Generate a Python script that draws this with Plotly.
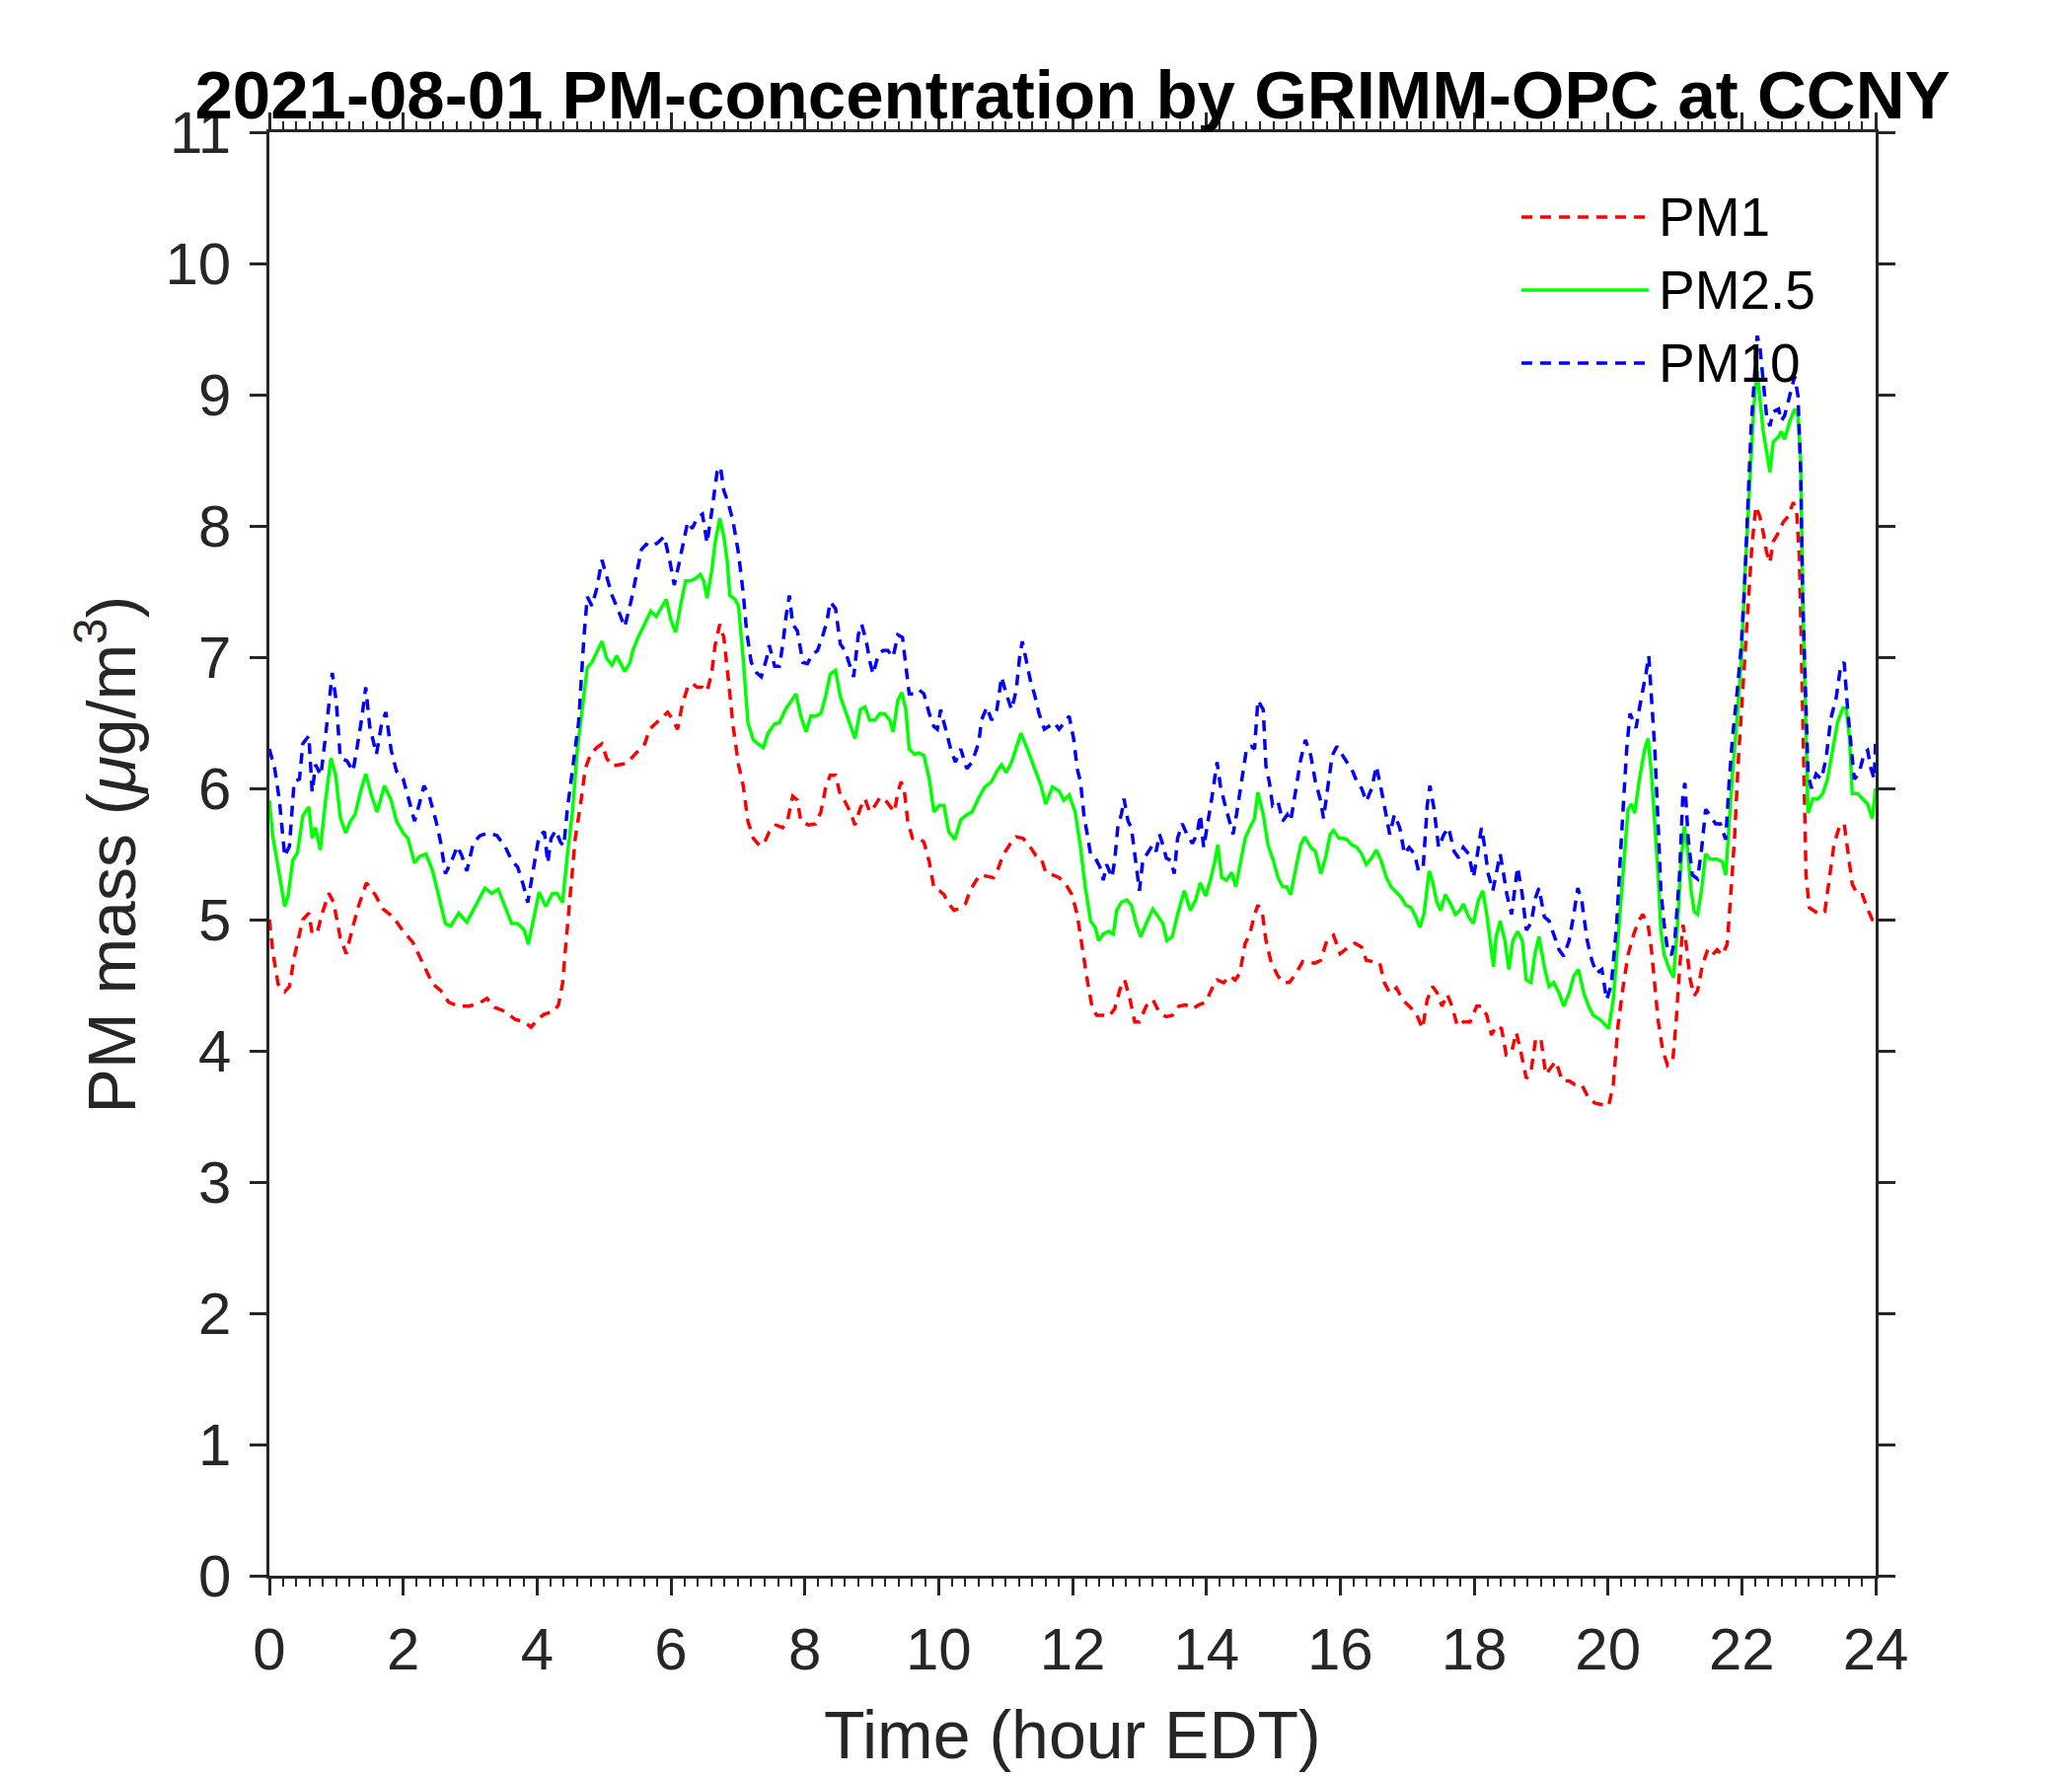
import plotly.graph_objects as go

# GRIMM-OPC readings, 2021-08-01 at CCNY
# time in hours EDT, PM mass in ug/m3

t_pm1 = [
    0.00, 0.05, 0.13, 0.23, 0.30, 0.37, 0.45, 0.50, 0.59, 0.64,
    0.72, 0.79, 0.89, 0.96, 1.06, 1.15, 1.23, 1.33, 1.45, 1.58,
    1.70, 1.85, 2.00, 2.14, 2.29, 2.44, 2.56, 2.68, 2.83, 2.98,
    3.13, 3.25, 3.37, 3.52, 3.67, 3.81, 3.91, 4.01, 4.11, 4.25,
    4.32,
    4.38, 4.43, 4.50, 4.57, 4.65, 4.72, 4.80, 4.89, 4.97, 5.04,
    5.12, 5.21, 5.34, 5.41, 5.51, 5.61, 5.68, 5.78, 5.88, 5.95,
    6.02, 6.10, 6.17, 6.25, 6.32, 6.39, 6.47, 6.54, 6.61, 6.66,
    6.73, 6.79, 6.86, 6.93, 7.01, 7.08, 7.15, 7.23, 7.33, 7.40,
    7.47, 7.57, 7.67, 7.74, 7.82, 7.89, 7.94,
    8.06, 8.16, 8.24, 8.31, 8.38, 8.46, 8.53, 8.60, 8.68, 8.75,
    8.83, 8.90, 8.97, 9.05, 9.12, 9.19, 9.27, 9.34, 9.39, 9.44,
    9.49, 9.54, 9.61, 9.71, 9.78, 9.86, 9.93, 10.01, 10.08, 10.15,
    10.23, 10.33, 10.40, 10.47, 10.55, 10.62, 10.72, 10.82, 10.89, 10.96,
    11.06, 11.16, 11.26, 11.36, 11.45, 11.53, 11.60, 11.70, 11.80, 11.90,
    11.99, 12.07, 12.14, 12.22, 12.29, 12.36, 12.46, 12.54, 12.63, 12.71,
    12.78, 12.86, 12.93, 13.00, 13.10, 13.20, 13.30, 13.40, 13.49, 13.59,
    13.69, 13.79, 13.89, 13.99, 14.08, 14.16, 14.26, 14.35, 14.43, 14.50,
    14.58, 14.65, 14.71, 14.77, 14.84, 14.89, 14.97, 15.07, 15.14, 15.24,
    15.34, 15.44, 15.53, 15.63, 15.71, 15.80, 15.90, 16.00,
    16.12, 16.22, 16.32, 16.39, 16.49, 16.59, 16.66, 16.74, 16.84, 16.93,
    17.03, 17.13, 17.23, 17.30, 17.38, 17.45, 17.52, 17.60, 17.67, 17.75,
    17.84, 17.94, 18.04, 18.11, 18.19, 18.26, 18.33, 18.41, 18.48, 18.56,
    18.63, 18.70, 18.78, 18.85, 18.92, 19.00, 19.07, 19.15, 19.22, 19.32,
    19.42, 19.51, 19.61, 19.71, 19.81, 19.91, 20.01, 20.08,
    20.15, 20.23, 20.30, 20.38, 20.45, 20.52, 20.60, 20.65, 20.70, 20.75,
    20.82, 20.89, 20.97, 21.02, 21.07, 21.12, 21.16, 21.23, 21.29, 21.34,
    21.41, 21.49, 21.56, 21.63, 21.71, 21.78, 21.83, 21.89, 21.95, 22.03,
    22.10, 22.15, 22.21, 22.27, 22.32, 22.37, 22.42, 22.47, 22.55, 22.62,
    22.69, 22.77, 22.82, 22.86, 22.89, 22.93, 22.96, 23.01, 23.09, 23.16,
    23.24, 23.31, 23.38, 23.46, 23.53, 23.58, 23.65, 23.73, 23.80, 23.88,
    23.95, 24.00,
]
pm1 = [
    5.00, 4.76, 4.51, 4.45, 4.49, 4.71, 4.89, 5.00, 5.05, 4.89,
    4.91, 5.05, 5.20, 5.13, 4.86, 4.74, 4.91, 5.10, 5.28, 5.19,
    5.08, 5.02, 4.91, 4.83, 4.67, 4.51, 4.46, 4.37, 4.34, 4.34,
    4.36, 4.40, 4.33, 4.30, 4.24, 4.22, 4.18, 4.24, 4.28, 4.30,
    4.35,
    4.51, 4.81, 5.21, 5.62, 5.88, 6.15, 6.26, 6.31, 6.34, 6.23,
    6.17, 6.18, 6.19, 6.23, 6.29, 6.34, 6.45, 6.50, 6.55, 6.58,
    6.53, 6.45, 6.64, 6.77, 6.80, 6.77, 6.77, 6.74, 6.88, 7.09,
    7.25, 7.15, 6.82, 6.47, 6.18, 6.02, 5.75, 5.62, 5.56, 5.59,
    5.67, 5.72, 5.70, 5.75, 5.94, 5.91, 5.75,
    5.72, 5.73, 5.82, 6.00, 6.10, 6.10, 5.95, 5.90, 5.82, 5.72,
    5.85, 5.92, 5.82, 5.87, 5.93, 5.92, 5.87, 5.82, 5.97, 6.05,
    5.97, 5.74, 5.62, 5.62, 5.59, 5.44, 5.24, 5.22, 5.19, 5.12,
    5.07, 5.09, 5.12, 5.22, 5.29, 5.34, 5.33, 5.32, 5.39, 5.49,
    5.57, 5.63, 5.62, 5.56, 5.49, 5.47, 5.36, 5.34, 5.32, 5.27,
    5.19, 5.04, 4.79, 4.54, 4.34, 4.27, 4.27, 4.26, 4.32, 4.47,
    4.54, 4.39, 4.22, 4.22, 4.34, 4.39, 4.29, 4.26, 4.27, 4.34,
    4.35, 4.32, 4.35, 4.37, 4.47, 4.54, 4.52, 4.57, 4.54, 4.59,
    4.82, 4.89, 5.02, 5.11, 5.04, 4.84, 4.67, 4.57, 4.52, 4.52,
    4.59, 4.68, 4.67, 4.67, 4.69, 4.84, 4.88, 4.74,
    4.79, 4.82, 4.79, 4.69, 4.68, 4.67, 4.52, 4.44, 4.48, 4.39,
    4.34, 4.29, 4.17, 4.39, 4.49, 4.44, 4.34, 4.43, 4.34, 4.19,
    4.22, 4.22, 4.34, 4.34, 4.27, 4.12, 4.19, 4.17, 3.97, 3.99,
    4.14, 3.99, 3.79, 3.84, 4.09, 4.09, 3.82, 3.87, 3.92, 3.77,
    3.77, 3.74, 3.74, 3.64, 3.60, 3.59, 3.58, 3.74,
    4.19, 4.50, 4.73, 4.88, 4.98, 5.04, 4.96, 4.77, 4.50, 4.23,
    4.00, 3.89, 3.93, 4.23, 4.62, 4.96, 4.85, 4.54, 4.42, 4.46,
    4.65, 4.77, 4.73, 4.77, 4.73, 4.81, 5.15, 5.61, 6.23, 6.84,
    7.45, 7.84, 8.15, 8.07, 7.95, 7.80, 7.72, 7.88, 7.95, 8.03,
    8.07, 8.18, 8.11, 7.76, 7.07, 6.11, 5.34, 5.09, 5.06, 5.04,
    5.06, 5.31, 5.58, 5.71, 5.73, 5.54, 5.27, 5.19, 5.19, 5.08,
    5.00, 5.00,
]

t_pm25 = [
    0.00, 0.05, 0.13, 0.23, 0.28, 0.35, 0.42, 0.50, 0.59, 0.64,
    0.69, 0.76, 0.84, 0.92, 0.99, 1.06, 1.14, 1.21, 1.28, 1.36,
    1.44, 1.53, 1.61, 1.72, 1.82, 1.90, 2.00, 2.07, 2.17, 2.24,
    2.34, 2.44, 2.54, 2.63, 2.71, 2.83, 2.95, 3.08, 3.22, 3.32,
    3.42, 3.52, 3.62, 3.71, 3.81, 3.87, 3.96,
    4.03, 4.13, 4.23, 4.30, 4.38, 4.45, 4.53, 4.60, 4.67, 4.75,
    4.82, 4.89, 4.97, 5.04, 5.12, 5.19, 5.26, 5.31, 5.39, 5.43,
    5.51, 5.61, 5.70, 5.78, 5.85, 5.93, 6.00, 6.07, 6.15, 6.22,
    6.29, 6.37, 6.44, 6.49, 6.54, 6.61, 6.66, 6.73, 6.79, 6.84,
    6.88, 6.96, 7.01, 7.08, 7.15, 7.23, 7.30, 7.38, 7.45, 7.55,
    7.62, 7.72, 7.79, 7.87, 7.94,
    8.02, 8.09, 8.16, 8.24, 8.31, 8.38, 8.46, 8.53, 8.60, 8.68,
    8.75, 8.83, 8.90, 8.97, 9.05, 9.12, 9.19, 9.27, 9.32, 9.39,
    9.45, 9.51, 9.56, 9.64, 9.71, 9.78, 9.86, 9.93, 10.01, 10.08,
    10.15, 10.24, 10.33, 10.42, 10.50, 10.60, 10.69, 10.79, 10.87, 10.94,
    11.01, 11.09, 11.16, 11.23, 11.31, 11.38, 11.45, 11.53, 11.60, 11.70,
    11.80, 11.87, 11.95,
    12.04, 12.12, 12.19, 12.27, 12.34, 12.39, 12.46, 12.54, 12.61, 12.66,
    12.73, 12.81, 12.88, 12.95, 13.02, 13.10, 13.20, 13.27, 13.35, 13.41,
    13.49, 13.57, 13.67, 13.76, 13.84, 13.91, 13.99, 14.06, 14.13, 14.17,
    14.23, 14.30, 14.38, 14.44, 14.50, 14.58, 14.65, 14.72, 14.77, 14.85,
    14.92, 15.00, 15.07, 15.14, 15.20, 15.26, 15.34, 15.41, 15.47, 15.56,
    15.63, 15.71, 15.78, 15.85, 15.90, 15.98,
    16.03, 16.10, 16.17, 16.25, 16.32, 16.39, 16.47, 16.54, 16.61, 16.69,
    16.76, 16.84, 16.91, 16.98, 17.06, 17.13, 17.19, 17.25, 17.33, 17.38,
    17.44, 17.50, 17.57, 17.65, 17.72, 17.79, 17.84, 17.92, 17.99, 18.06,
    18.13, 18.19, 18.24, 18.29, 18.33, 18.39, 18.46, 18.52, 18.58, 18.65,
    18.72, 18.78, 18.85, 18.91, 18.97, 19.05, 19.12, 19.19, 19.27, 19.34,
    19.42, 19.49, 19.56, 19.64, 19.71, 19.78, 19.88, 19.96,
    20.01, 20.08, 20.15, 20.23, 20.30, 20.35, 20.40, 20.47, 20.55, 20.60,
    20.65, 20.70, 20.75, 20.79, 20.84, 20.92, 20.98, 21.04, 21.09, 21.14,
    21.19, 21.24, 21.29, 21.34, 21.40, 21.46, 21.53, 21.63, 21.71, 21.76,
    21.81, 21.86, 21.93, 21.99, 22.05, 22.13, 22.18, 22.23, 22.27, 22.32,
    22.37, 22.42, 22.47, 22.55, 22.59, 22.64, 22.72, 22.79, 22.84, 22.88,
    22.91, 22.95, 22.99, 23.06, 23.14, 23.21, 23.28, 23.36, 23.43, 23.51,
    23.56, 23.61, 23.65, 23.73, 23.80, 23.88, 23.95, 24.00,
]
pm25 = [
    5.91, 5.64, 5.40, 5.10, 5.18, 5.45, 5.51, 5.79, 5.86, 5.62,
    5.70, 5.53, 5.91, 6.23, 6.10, 5.78, 5.66, 5.75, 5.80, 5.97,
    6.11, 5.94, 5.82, 6.02, 5.91, 5.75, 5.66, 5.62, 5.43, 5.48,
    5.50, 5.37, 5.16, 4.97, 4.95, 5.05, 4.98, 5.10, 5.24, 5.20,
    5.23, 5.10, 4.97, 4.97, 4.92, 4.81, 5.05,
    5.21, 5.10, 5.20, 5.20, 5.13, 5.48, 5.83, 6.29, 6.61, 6.92,
    6.96, 7.04, 7.12, 6.99, 6.94, 7.01, 6.94, 6.89, 6.96, 7.05,
    7.15, 7.25, 7.35, 7.31, 7.37, 7.44, 7.28, 7.19, 7.41, 7.58,
    7.58, 7.60, 7.63, 7.58, 7.45, 7.66, 7.87, 8.06, 7.92, 7.74,
    7.47, 7.44, 7.39, 6.99, 6.50, 6.37, 6.34, 6.31, 6.42, 6.49,
    6.50, 6.61, 6.66, 6.72, 6.55,
    6.43, 6.55, 6.55, 6.57, 6.70, 6.87, 6.90, 6.70, 6.60, 6.47,
    6.38, 6.60, 6.62, 6.52, 6.52, 6.57, 6.57, 6.52, 6.43, 6.67,
    6.73, 6.60, 6.30, 6.26, 6.27, 6.25, 6.07, 5.82, 5.87, 5.87,
    5.67, 5.61, 5.76, 5.80, 5.82, 5.93, 6.01, 6.05, 6.13, 6.18,
    6.12, 6.20, 6.32, 6.42, 6.32, 6.22, 6.12, 6.02, 5.88, 6.01,
    5.98, 5.91, 5.95,
    5.82, 5.55, 5.25, 4.99, 4.94, 4.84, 4.89, 4.91, 4.89, 5.07,
    5.13, 5.15, 5.11, 4.97, 4.87, 4.97, 5.08, 5.03, 4.97, 4.84,
    4.87, 5.04, 5.22, 5.07, 5.15, 5.28, 5.18, 5.30, 5.45, 5.57,
    5.32, 5.30, 5.36, 5.25, 5.42, 5.62, 5.70, 5.77, 5.97, 5.80,
    5.57, 5.45, 5.32, 5.25, 5.25, 5.19, 5.40, 5.57, 5.63, 5.55,
    5.52, 5.35, 5.47, 5.65, 5.68, 5.62,
    5.62, 5.61, 5.57, 5.55, 5.50, 5.42, 5.47, 5.53, 5.45, 5.32,
    5.25, 5.21, 5.17, 5.11, 5.09, 5.02, 4.94, 5.04, 5.37, 5.29,
    5.14, 5.07, 5.19, 5.12, 5.04, 5.07, 5.12, 5.02, 4.97, 5.14,
    5.22, 5.04, 4.84, 4.64, 4.87, 4.99, 4.84, 4.62, 4.84, 4.91,
    4.84, 4.54, 4.52, 4.74, 4.87, 4.64, 4.49, 4.52, 4.44, 4.34,
    4.44, 4.57, 4.62, 4.44, 4.34, 4.27, 4.24, 4.20,
    4.17, 4.39, 4.85, 5.46, 5.84, 5.88, 5.81, 6.07, 6.30, 6.38,
    6.11, 5.73, 5.34, 4.92, 4.73, 4.62, 4.56, 4.96, 5.42, 5.71,
    5.54, 5.23, 5.06, 5.04, 5.23, 5.50, 5.46, 5.46, 5.44, 5.34,
    5.73, 6.11, 6.53, 6.96, 7.65, 8.41, 8.91, 9.18, 8.99, 8.72,
    8.57, 8.41, 8.64, 8.68, 8.72, 8.66, 8.80, 8.89, 8.84, 8.49,
    7.45, 6.50, 5.81, 5.92, 5.92, 5.96, 6.07, 6.30, 6.50, 6.61,
    6.61, 6.38, 5.96, 5.96, 5.92, 5.88, 5.77, 6.00,
]

t_pm10 = [
    0.00, 0.08, 0.15, 0.23, 0.30, 0.37, 0.45, 0.50, 0.59, 0.64,
    0.69, 0.77, 0.84, 0.94, 1.00, 1.06, 1.16, 1.25, 1.31, 1.38,
    1.44, 1.50, 1.60, 1.68, 1.74, 1.82, 1.90, 2.00, 2.07, 2.17,
    2.24, 2.31, 2.39, 2.49, 2.56, 2.63, 2.71, 2.81, 2.88, 2.95,
    3.05, 3.15, 3.27, 3.40, 3.52, 3.62, 3.71, 3.79, 3.86, 3.94,
    4.03, 4.11, 4.16, 4.21, 4.28, 4.35, 4.40, 4.45, 4.53, 4.62,
    4.70, 4.75, 4.82, 4.89, 4.97, 5.03, 5.12, 5.21, 5.31, 5.41,
    5.48, 5.56, 5.63, 5.70, 5.80, 5.90, 5.98, 6.05, 6.12, 6.20,
    6.25, 6.32, 6.39, 6.47, 6.54, 6.61, 6.69, 6.74, 6.79, 6.86,
    6.93, 7.01, 7.08, 7.13, 7.20, 7.28, 7.35, 7.43, 7.47, 7.55,
    7.62, 7.67, 7.72, 7.77, 7.82, 7.89, 7.97,
    8.04, 8.11, 8.19, 8.26, 8.33, 8.38, 8.46, 8.53, 8.60, 8.68,
    8.73, 8.80, 8.85, 8.92, 8.97, 9.02, 9.10, 9.17, 9.24, 9.32,
    9.39, 9.46, 9.51, 9.56, 9.64, 9.71, 9.78, 9.86, 9.93, 9.98,
    10.03, 10.10, 10.18, 10.25, 10.33, 10.42, 10.50, 10.60, 10.64, 10.72,
    10.79, 10.87, 10.94, 11.01, 11.09, 11.16, 11.21, 11.25, 11.31, 11.38,
    11.43, 11.50, 11.58, 11.65, 11.73, 11.80, 11.87, 11.95,
    12.02, 12.07, 12.12, 12.17, 12.22, 12.27, 12.34, 12.41, 12.46, 12.51,
    12.59, 12.63, 12.68, 12.73, 12.77, 12.83, 12.88, 12.93, 13.00, 13.05,
    13.13, 13.20, 13.25, 13.30, 13.35, 13.40, 13.47, 13.52, 13.57, 13.64,
    13.71, 13.79, 13.86, 13.91, 13.96, 14.02, 14.08, 14.16, 14.21, 14.28,
    14.34, 14.40, 14.45, 14.53, 14.60, 14.67, 14.72, 14.77, 14.85, 14.89,
    14.94, 14.99, 15.07, 15.14, 15.21, 15.26, 15.34, 15.41, 15.48, 15.56,
    15.63, 15.71, 15.75, 15.80, 15.88, 15.95,
    16.03, 16.10, 16.17, 16.25, 16.32, 16.39, 16.47, 16.54, 16.61, 16.69,
    16.74, 16.81, 16.89, 16.96, 17.03, 17.11, 17.17, 17.24, 17.30, 17.34,
    17.40, 17.47, 17.55, 17.62, 17.70, 17.77, 17.84, 17.92, 17.99, 18.05,
    18.11, 18.16, 18.21, 18.28, 18.33, 18.39, 18.44, 18.49, 18.56, 18.61,
    18.65, 18.72, 18.78, 18.85, 18.92, 18.97, 19.05, 19.12, 19.19, 19.27,
    19.34, 19.42, 19.49, 19.55, 19.61, 19.69, 19.76, 19.83, 19.91, 19.98,
    20.05, 20.13, 20.20, 20.28, 20.33, 20.38, 20.42, 20.47, 20.52, 20.57,
    20.61, 20.65, 20.70, 20.75, 20.79, 20.84, 20.89, 20.95, 21.00, 21.07,
    21.12, 21.15, 21.20, 21.26, 21.34, 21.40, 21.46, 21.53, 21.61, 21.68,
    21.76, 21.81, 21.86, 21.93, 21.99, 22.04, 22.09, 22.14, 22.19, 22.23,
    22.27, 22.32, 22.37, 22.42, 22.47, 22.55, 22.59, 22.64, 22.72, 22.79,
    22.84, 22.88, 22.91, 22.95, 22.99, 23.04, 23.11, 23.19, 23.26, 23.33,
    23.41, 23.48, 23.53, 23.58, 23.63, 23.68, 23.75, 23.83, 23.88, 23.93,
    23.98, 24.00,
]
pm10 = [
    6.30, 6.15, 5.91, 5.48, 5.56, 6.05, 6.07, 6.34, 6.40, 5.97,
    6.18, 6.10, 6.40, 6.88, 6.66, 6.23, 6.21, 6.13, 6.31, 6.53,
    6.77, 6.47, 6.26, 6.50, 6.58, 6.29, 6.13, 6.07, 5.94, 5.75,
    5.88, 6.02, 5.94, 5.75, 5.59, 5.35, 5.43, 5.56, 5.48, 5.37,
    5.59, 5.64, 5.66, 5.64, 5.56, 5.45, 5.40, 5.27, 5.13, 5.37,
    5.64, 5.67, 5.43, 5.62, 5.68, 5.59, 5.56, 5.83, 6.13, 6.50,
    7.15, 7.46, 7.39, 7.52, 7.74, 7.63, 7.47, 7.36, 7.23, 7.44,
    7.63, 7.82, 7.86, 7.84, 7.87, 7.92, 7.74, 7.55, 7.71, 7.92,
    8.03, 7.98, 8.06, 8.09, 7.87, 8.11, 8.41, 8.45, 8.27, 8.17,
    8.03, 7.79, 7.49, 7.20, 6.96, 6.88, 6.85, 6.99, 7.09, 6.93,
    6.93, 7.09, 7.31, 7.47, 7.25, 7.20, 6.96,
    6.95, 7.02, 7.05, 7.15, 7.27, 7.42, 7.37, 7.10, 7.05, 6.92,
    6.85, 7.17, 7.25, 7.12, 6.97, 6.87, 7.02, 7.05, 7.05, 7.00,
    7.17, 7.15, 6.95, 6.72, 6.72, 6.75, 6.72, 6.57, 6.47, 6.45,
    6.60, 6.45, 6.30, 6.20, 6.30, 6.15, 6.20, 6.35, 6.52, 6.62,
    6.52, 6.60, 6.85, 6.72, 6.60, 6.75, 7.00, 7.12, 6.97, 6.80,
    6.72, 6.57, 6.45, 6.47, 6.50, 6.45, 6.50, 6.55,
    6.37, 6.15, 6.05, 5.80, 5.65, 5.50, 5.47, 5.40, 5.30, 5.42,
    5.32, 5.45, 5.72, 5.80, 5.92, 5.75, 5.70, 5.50, 5.22, 5.45,
    5.52, 5.57, 5.52, 5.65, 5.57, 5.47, 5.45, 5.35, 5.62, 5.73,
    5.65, 5.58, 5.65, 5.80, 5.55, 5.72, 5.92, 6.20, 6.02, 5.87,
    5.77, 5.65, 5.80, 6.05, 6.30, 6.32, 6.30, 6.67, 6.60, 6.17,
    6.05, 5.87, 5.90, 5.75, 5.80, 5.75, 6.00, 6.22, 6.37, 6.25,
    6.05, 5.90, 5.77, 5.97, 6.25, 6.32,
    6.25, 6.20, 6.15, 6.05, 6.00, 5.90, 6.00, 6.17, 6.00, 5.80,
    5.65, 5.80, 5.70, 5.50, 5.55, 5.50, 5.37, 5.40, 5.87, 6.02,
    5.85, 5.55, 5.65, 5.70, 5.52, 5.47, 5.55, 5.50, 5.32, 5.50,
    5.70, 5.55, 5.35, 5.22, 5.35, 5.50, 5.35, 5.19, 5.04, 5.24,
    5.40, 5.19, 4.92, 4.97, 5.17, 5.24, 5.02, 4.99, 4.89, 4.77,
    4.72, 4.84, 5.04, 5.24, 5.14, 4.84, 4.69, 4.59, 4.62, 4.39,
    4.50, 4.96, 5.61, 6.30, 6.57, 6.50, 6.46, 6.61, 6.73, 6.88,
    7.01, 6.73, 6.30, 5.73, 5.23, 4.96, 4.77, 4.73, 4.85, 5.34,
    5.96, 6.04, 5.61, 5.34, 5.31, 5.54, 5.84, 5.79, 5.73, 5.73,
    5.61, 6.04, 6.38, 6.73, 7.07, 7.53, 8.11, 8.76, 9.14, 9.45,
    9.37, 9.10, 8.84, 8.76, 8.87, 8.89, 8.80, 8.84, 8.99, 9.14,
    8.99, 8.41, 7.45, 6.69, 6.11, 6.00, 6.11, 6.07, 6.23, 6.53,
    6.69, 6.94, 6.96, 6.61, 6.30, 6.07, 6.11, 6.27, 6.29, 6.15,
    6.07, 6.38,
]

assert len(t_pm1) == len(pm1)
assert len(t_pm25) == len(pm25)
assert len(t_pm10) == len(pm10)

x_ticks = list(range(0, 25, 2))
y_ticks = list(range(0, 12))

AXIS = '#262626'
FONT = 'Liberation Sans, Arial, Helvetica, sans-serif'
DASH = '11px,8px'
LW = 3.5

series = [
    ('PM1', t_pm1, pm1, '#ff0000', DASH),
    ('PM2.5', t_pm25, pm25, '#00ff00', 'solid'),
    ('PM10', t_pm10, pm10, '#0000ff', DASH),
]

fig = go.Figure()
for name, t, v, color, dash in series:
    fig.add_trace(go.Scatter(
        x=t, y=v, mode='lines', name=name,
        line={'color': color, 'width': LW, 'dash': dash}
    ))

# legend drawn by hand so the line samples are as long as in the original
legend_rows = [0.9412, 0.8907, 0.8401]
for (name, t, v, color, dash), ry in zip(series, legend_rows):
    fig.add_shape(type='line', xref='paper', yref='paper',
                  x0=0.7795, x1=0.8587, y0=ry, y1=ry,
                  line={'color': color, 'width': LW, 'dash': dash})
    fig.add_annotation(text=name, xref='paper', yref='paper',
                       x=0.8636, y=ry, xanchor='left', yanchor='middle',
                       showarrow=False, font={'size': 55, 'color': 'black'})

fig.add_annotation(text='Time (hour EDT)', xref='paper', yref='paper',
                   x=0.5, y=-0.110, xanchor='center', yanchor='middle',
                   showarrow=False, font={'size': 68, 'color': AXIS})
fig.add_annotation(text='PM mass (<i>\u03bc</i>g/m<sup>3</sup>)',
                   xref='paper', yref='paper', textangle=-90,
                   x=-0.1014, y=0.5, xanchor='center', yanchor='middle',
                   showarrow=False, font={'size': 68, 'color': AXIS})

# the page body adds an 8 px offset, so margins are trimmed by that much
fig.update_layout(
    width=2100, height=1800,
    margin={'l': 265, 'r': 207, 't': 126, 'b': 211},
    paper_bgcolor='white', plot_bgcolor='white',
    showlegend=False,
    font={'family': FONT, 'size': 60, 'color': AXIS},
    title={'text': '<b>2021-08-01 PM-concentration by GRIMM-OPC at CCNY</b>',
           'xref': 'paper', 'x': 0.5, 'xanchor': 'center',
           'yref': 'container', 'y': 0.951, 'yanchor': 'middle',
           'font': {'size': 69, 'color': 'black', 'family': FONT}},
)

fig.update_xaxes(
    range=[0, 24], tickmode='array', tickvals=x_ticks,
    ticks='outside', ticklen=17, tickwidth=2.5, tickcolor=AXIS,
    showline=True, linewidth=2.5, linecolor=AXIS, mirror='ticks',
    showgrid=False, zeroline=False, ticklabelstandoff=3,
    minor={'tickmode': 'linear', 'tick0': 0, 'dtick': 0.2,
           'ticks': 'outside', 'ticklen': 8, 'tickwidth': 2,
           'tickcolor': AXIS, 'showgrid': False},
)
fig.update_yaxes(
    range=[0, 11], tickmode='array', tickvals=y_ticks,
    ticks='outside', ticklen=17, tickwidth=2.5, tickcolor=AXIS,
    showline=True, linewidth=2.5, linecolor=AXIS, mirror='ticks',
    showgrid=False, zeroline=False, ticklabelstandoff=7,
)

fig.write_html('out.html')
